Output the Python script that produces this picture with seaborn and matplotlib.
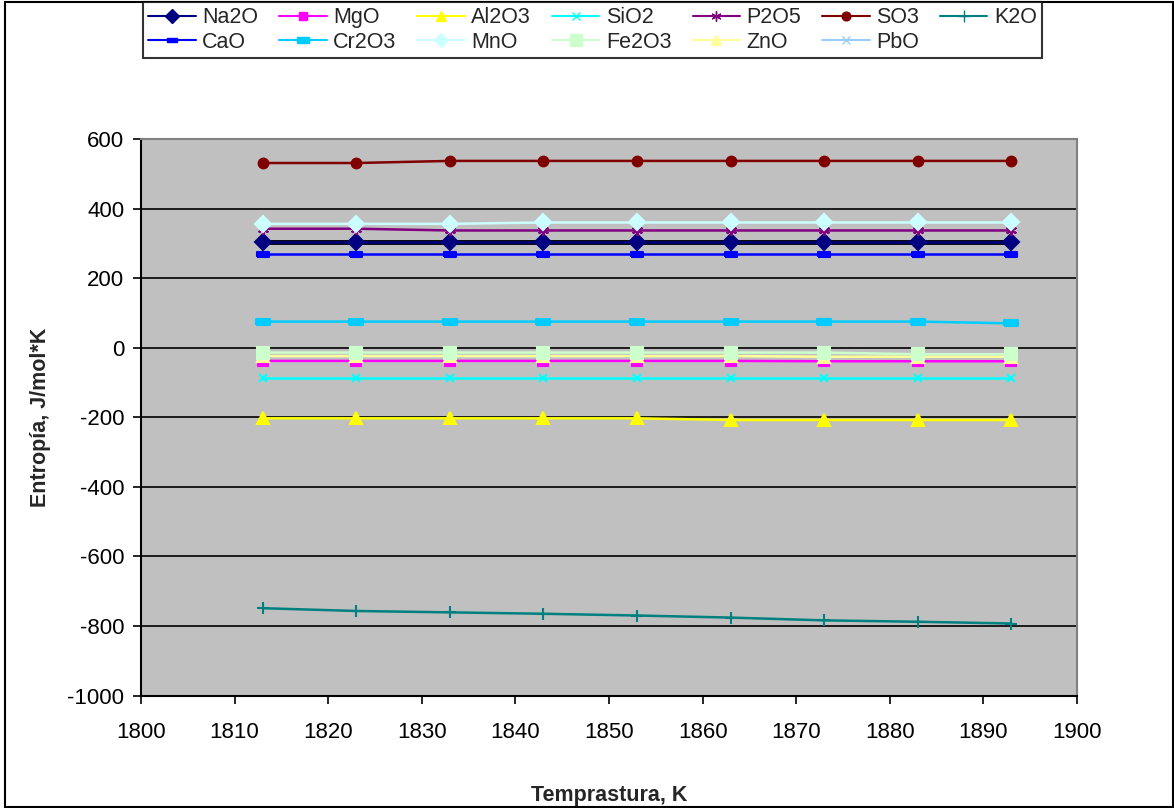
import numpy as np
import pandas as pd
import matplotlib
matplotlib.use("Agg")
import matplotlib.pyplot as plt
from matplotlib.lines import Line2D
from matplotlib.patches import Rectangle
import seaborn as sns

# ---- data ----
temps = [1813, 1823, 1833, 1843, 1853, 1863, 1873, 1883, 1893]
Na2O = [304, 304, 304, 304, 304, 304, 304, 304, 304]
MgO = [-38, -38, -38, -38, -38, -38, -39, -39, -39]
Al2O3 = [-203, -203, -203, -203, -203, -208, -208, -208, -208]
SiO2 = [-87, -87, -87, -87, -87, -87, -87, -87, -87]
P2O5 = [342, 342, 337, 337, 337, 337, 337, 337, 337]
SO3 = [531, 531, 537, 537, 537, 537, 537, 537, 537]
K2O = [-749, -757, -761, -765, -770, -776, -784, -788, -793]
CaO = [270, 270, 270, 270, 270, 270, 270, 270, 270]
Cr2O3 = [75, 75, 75, 75, 75, 75, 75, 75, 70]
MnO = [356, 356, 356, 360, 360, 360, 360, 360, 360]
Fe2O3 = [-14, -14, -14, -14, -14, -14, -14, -19, -19]
ZnO = [-24, -24, -24, -24, -24, -24, -26, -26, -26]

x_ticks = [1800, 1810, 1820, 1830, 1840, 1850, 1860, 1870, 1880, 1890, 1900]
y_ticks = [600, 400, 200, 0, -200, -400, -600, -800, -1000]

series = {
    "Na2O": Na2O, "MgO": MgO, "Al2O3": Al2O3, "SiO2": SiO2, "P2O5": P2O5,
    "SO3": SO3, "K2O": K2O, "CaO": CaO, "Cr2O3": Cr2O3, "MnO": MnO,
    "Fe2O3": Fe2O3, "ZnO": ZnO,
}
rows = []
for name, vals in series.items():
    for t, v in zip(temps, vals):
        rows.append({"oxide": name, "T": t, "S": v})
df = pd.DataFrame(rows)

dash = [(-1, -0.45), (1, -0.45), (1, 0.45), (-1, 0.45), (-1, -0.45)]
star = (6, 2, 0)
styles = {
    "Na2O": dict(color="#000080", marker="D", ms=8),
    "MgO": dict(color="#FF00FF", marker="s", ms=7),
    "Al2O3": dict(color="#FFFF00", marker="^", ms=8),
    "SiO2": dict(color="#00FFFF", marker="x", ms=6),
    "P2O5": dict(color="#800080", marker=star, ms=8),
    "SO3": dict(color="#800000", marker="o", ms=7),
    "K2O": dict(color="#008080", marker="+", ms=9),
    "CaO": dict(color="#0000FF", marker=dash, ms=8),
    "Cr2O3": dict(color="#00CCFF", marker=dash, ms=10),
    "MnO": dict(color="#CCFFFF", marker="D", ms=8),
    "Fe2O3": dict(color="#CCFFCC", marker="s", ms=9),
    "ZnO": dict(color="#FFFF99", marker="^", ms=8),
    "PbO": dict(color="#99CCFF", marker="x", ms=6),
}

sns.set_theme(style="white")
plt.rcParams["font.family"] = ["Liberation Sans", "DejaVu Sans"]
plt.rcParams["axes.unicode_minus"] = False

fig = plt.figure(figsize=(11.74, 8.08), dpi=100)
ax = fig.add_axes([141 / 1174, 1 - 695.5 / 808, (1077 - 141) / 1174, (695.5 - 139) / 808])
ax.set_facecolor("#C0C0C0")

# thick black line under Na2O
sns.lineplot(data=df[df.oxide == "Na2O"], x="T", y="S", ax=ax, color="black",
             lw=3.5, legend=False, zorder=2)

draw_order = ["K2O", "Al2O3", "SiO2", "MgO", "ZnO", "Fe2O3", "Cr2O3", "CaO",
              "Na2O", "P2O5", "MnO", "SO3"]
for name in draw_order:
    st = styles[name]
    sns.lineplot(data=df[df.oxide == name], x="T", y="S", ax=ax, color=st["color"],
                 marker=st["marker"], markersize=st["ms"], markeredgecolor=st["color"],
                 markerfacecolor=st["color"], markeredgewidth=1.5, lw=1.8,
                 legend=False, zorder=3)

for yv in y_ticks:
    ax.axhline(yv, color="black", lw=1.2, zorder=1)

ax.set_xlim(1800, 1900)
ax.set_ylim(-1000, 600)
ax.set_xticks(x_ticks)
ax.set_yticks(y_ticks)
ax.tick_params(axis="both", direction="out", length=6, width=1.2, color="black",
               labelsize=16, labelcolor="black", bottom=True, left=True)
ax.tick_params(axis="x", pad=13)
ax.tick_params(axis="y", pad=6)
for s in ["left", "bottom"]:
    ax.spines[s].set_color("black")
    ax.spines[s].set_linewidth(1.5)
for s in ["top", "right"]:
    ax.spines[s].set_color("#808080")
    ax.spines[s].set_linewidth(1.5)

ax.set_xlabel("Temprastura, K", fontsize=15.5, fontweight="bold", labelpad=30)
ax.set_ylabel("Entropía, J/mol*K", fontsize=15.5, fontweight="bold", labelpad=12)

legend_order = ["Na2O", "CaO", "MgO", "Cr2O3", "Al2O3", "MnO", "SiO2", "Fe2O3",
                "P2O5", "ZnO", "SO3", "PbO", "K2O"]
handles = []
for name in legend_order:
    st = styles[name]
    handles.append(Line2D([], [], color=st["color"], marker=st["marker"],
                          markersize=st["ms"] * 0.9, markerfacecolor=st["color"],
                          markeredgecolor=st["color"], lw=1.5, label=name))
leg = fig.legend(handles=handles, loc="upper left", ncol=7,
                 bbox_to_anchor=(143 / 1174, 1 - 2 / 808), frameon=True,
                 fancybox=False, edgecolor="black", fontsize=15.5,
                 handlelength=2.2, handletextpad=0.3, columnspacing=0.98,
                 labelspacing=0.15, borderpad=0.25, borderaxespad=0)
leg.get_frame().set_linewidth(1.5)

fig.patches.append(Rectangle((5 / 1174, 0.001), 1 - 6 / 1174, 0.997,
                             transform=fig.transFigure, fill=False,
                             edgecolor="black", lw=1.5))

fig.savefig("out.png", dpi=100, facecolor="white")
